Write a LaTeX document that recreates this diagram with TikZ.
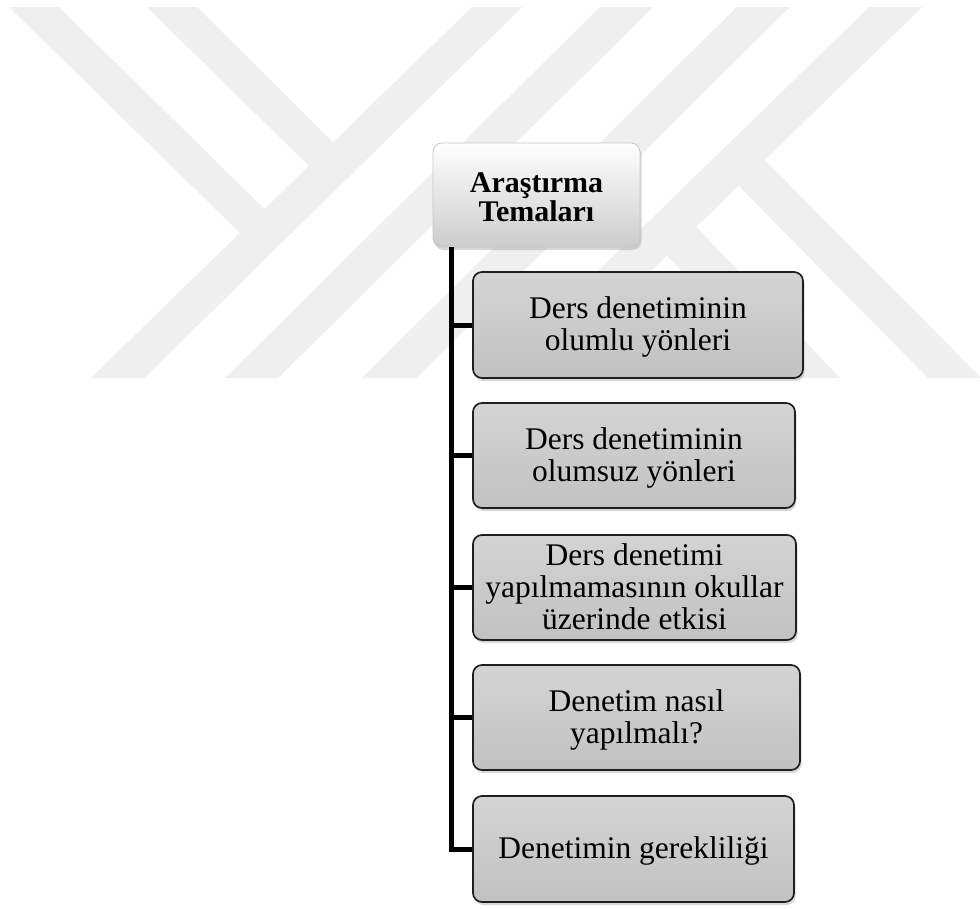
\documentclass[tikz,border=0pt]{standalone}
\usepackage{fontspec}
\setmainfont{Liberation Serif}
\usetikzlibrary{shadows,calc}
\definecolor{wm}{RGB}{239,239,239}
\newcommand\mytopst[1]{\rule{0pt}{#1}}
\newcommand\mybotst[1]{\rule[-#1]{0pt}{#1}}
\begin{document}
\begin{tikzpicture}[x=1pt,y=-1pt,
  rootbox/.style={draw=black!22, line width=0.8pt, rounded corners=9pt,
    top color=white, bottom color=black!20, inner sep=0pt, align=center,
    font=\fontsize{30}{29}\selectfont\bfseries,
    drop shadow={shadow xshift=1.5pt, shadow yshift=-3pt, opacity=0.3}},
  childbox/.style={draw=black!88, line width=1.7pt, rounded corners=9pt,
    top color=black!17, bottom color=black!24, inner sep=0pt, align=center,
    font=\fontsize{31.5}{32}\selectfont,
    drop shadow={shadow xshift=1.5pt, shadow yshift=-3pt, opacity=0.3}},
  conn/.style={line width=5pt, black},
  stripe/.style={fill=wm}]
\useasboundingbox (0,0) rectangle (980,908);
\fill[white] (0,0) rectangle (980,908);
% watermark
\fill[stripe] (9,7) -- (59,7) -- (289,233) -- (240,233) -- cycle;
\fill[stripe] (147,7) -- (197,7) -- (358,167) -- (310,167) -- cycle;
\fill[stripe] (472,7) -- (522,7) -- (144,378) -- (91,378) -- cycle;
\fill[stripe] (600,7) -- (653,7) -- (278,378) -- (225,378) -- cycle;
\fill[stripe] (737,7) -- (790,7) -- (416,378) -- (362,378) -- cycle;
\fill[stripe] (869,7) -- (922,7) -- (541,378) -- (488,378) -- cycle;
\fill[stripe] (730,177) -- (757,152) -- (980,377) -- (980,378) -- (928,378) -- cycle;
\fill[stripe] (688,218) -- (840,378) -- (784,378) -- (657,245) -- cycle;
% nodes
\node[rootbox, minimum width=207pt, minimum height=104pt] (root) at (536.5,195) {\mytopst{25pt}Araştırma\\Temaları};
\node[childbox, minimum width=330pt, minimum height=106pt] (c1) at (638,325) {\mytopst{27pt}Ders denetiminin\\olumlu yönleri\mybotst{8pt}};
\node[childbox, minimum width=322pt, minimum height=105pt] (c2) at (634,455.5) {\mytopst{27pt}Ders denetiminin\\olumsuz yönleri\mybotst{8pt}};
\node[childbox, minimum width=323pt, minimum height=105pt] (c3) at (634.5,587.5) {\mytopst{27pt}Ders denetimi\\yapılmamasının okullar\\üzerinde etkisi\mybotst{8pt}};
\node[childbox, minimum width=327pt, minimum height=105pt] (c4) at (636.5,717.5) {\mytopst{27pt}Denetim nasıl\\yapılmalı?\mybotst{8pt}};
\node[childbox, minimum width=321pt, minimum height=106pt] (c5) at (633.5,849) {\mytopst{27pt}Denetimin gerekliliği\mybotst{8pt}};
% connectors
\coordinate (trunk) at ($(root.south west)+(19,0)$);
\draw[conn] (trunk) |- (c5.west);
\foreach \n in {c1,c2,c3,c4} \draw[conn] (\n.west) -- (\n.west -| trunk);
\end{tikzpicture}
\end{document}
